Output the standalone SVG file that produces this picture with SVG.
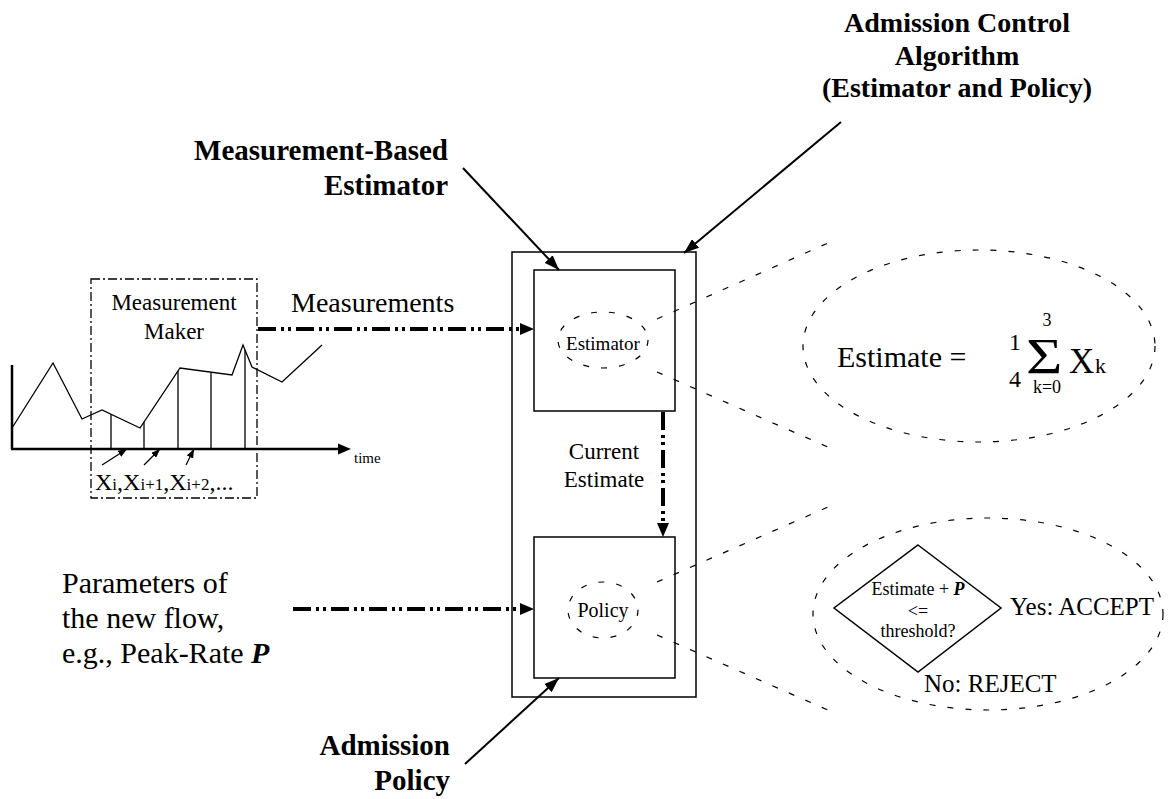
<svg xmlns="http://www.w3.org/2000/svg" width="1169" height="799" viewBox="0 0 1169 799">
<style>
text{font-family:"Liberation Serif","Times New Roman",serif;fill:#000}
.b{font-weight:bold}
.box{fill:none;stroke:#000;stroke-width:1.5}
.dsh{fill:none;stroke:#000;stroke-width:1.2;stroke-dasharray:6 12}
.thick{fill:none;stroke:#000;stroke-width:4;stroke-dasharray:18 5 3 4 3 5}
.thin{fill:none;stroke:#000;stroke-width:2}
.sm{fill:none;stroke:#000;stroke-width:1.3}
</style>
<defs>
<marker id="ah" markerUnits="userSpaceOnUse" markerWidth="14" markerHeight="12" refX="0" refY="6" orient="auto"><path d="M0,0 L14,6 L0,12 z" fill="#000"/></marker>
<marker id="at" markerUnits="userSpaceOnUse" markerWidth="15" markerHeight="11" refX="15" refY="5.5" orient="auto"><path d="M0,0 L15,5.5 L0,11 z" fill="#000"/></marker>
<marker id="as" markerUnits="userSpaceOnUse" markerWidth="9" markerHeight="7" refX="9" refY="3.5" orient="auto"><path d="M0,0 L9,3.5 L0,7 z" fill="#000"/></marker>
</defs>

<g id="chart">
<line x1="12" y1="365" x2="12" y2="449" stroke="#000" stroke-width="2.5"/>
<line x1="11" y1="449" x2="338" y2="449" stroke="#000" stroke-width="2.5"/>
<path d="M338,443.5 L351,449 L338,454.5 z" fill="#000"/>
<polyline class="sm" points="12,428 53,363 82,419 102,410 140,428 180,368 232,375 243,345 252,367 282,382 322,345"/>
<line class="sm" x1="111" y1="414" x2="111" y2="449"/>
<line class="sm" x1="144" y1="422" x2="144" y2="449"/>
<line class="sm" x1="178" y1="371" x2="178" y2="449"/>
<line class="sm" x1="211" y1="372" x2="211" y2="449"/>
<line class="sm" x1="245" y1="350" x2="245" y2="449"/>
<line class="sm" x1="102" y1="465" x2="127" y2="449" marker-end="url(#as)"/>
<line class="sm" x1="144" y1="465" x2="160" y2="449" marker-end="url(#as)"/>
<line class="sm" x1="186" y1="465" x2="194" y2="449" marker-end="url(#as)"/>
<text x="354" y="463" font-size="15">time</text>
<text x="95" y="490" font-size="24">X<tspan font-size="17">i</tspan>,X<tspan font-size="17">i+1</tspan>,X<tspan font-size="17">i+2</tspan>,...</text>
</g>

<g id="measurement-maker">
<rect x="91" y="279" width="166" height="219" fill="none" stroke="#000" stroke-width="1.3" stroke-dasharray="9 3 2 3"/>
<text x="174" y="310" font-size="23" text-anchor="middle">Measurement</text>
<text x="174" y="339" font-size="23" text-anchor="middle">Maker</text>
</g>

<g id="admission-control">
<rect class="box" x="512" y="252" width="184" height="445"/>
</g>

<g id="estimator">
<rect class="box" x="534" y="270" width="141" height="141"/>
<ellipse class="dsh" cx="603" cy="340" rx="45" ry="28"/>
<text x="603" y="350" font-size="19" text-anchor="middle">Estimator</text>
</g>

<g id="policy">
<rect class="box" x="534" y="537" width="141" height="141"/>
<ellipse class="dsh" cx="603" cy="610" rx="35" ry="28"/>
<text x="603" y="617" font-size="20" text-anchor="middle">Policy</text>
</g>

<g id="estimate-zoom">
<ellipse class="dsh" cx="979" cy="346" rx="176" ry="96"/>
<text x="837" y="367" font-size="30">Estimate =</text>
<text x="1015" y="350" font-size="24" text-anchor="middle">1</text>
<text x="1015" y="387" font-size="24" text-anchor="middle">4</text>
<text transform="translate(1026,373) scale(1.25,1)" font-size="50">Σ</text>
<text x="1047" y="326" font-size="18" text-anchor="middle">3</text>
<text x="1047" y="393" font-size="18" text-anchor="middle">k=0</text>
<text x="1069" y="373" font-size="35">X</text>
<text x="1095" y="373" font-size="22">k</text>
</g>

<g id="policy-zoom">
<ellipse class="dsh" cx="988" cy="614" rx="175" ry="96"/>
<polygon points="918,545 1001,608 918,672 834,608" fill="none" stroke="#000" stroke-width="1.5"/>
<text x="918" y="595" font-size="18" text-anchor="middle">Estimate + <tspan font-weight="bold" font-style="italic">P</tspan></text>
<text x="918" y="617" font-size="18" text-anchor="middle">&lt;=</text>
<text x="918" y="637" font-size="18" text-anchor="middle">threshold?</text>
<text x="1010" y="615" font-size="25">Yes: ACCEPT</text>
<text x="924" y="692" font-size="25">No: REJECT</text>
</g>

<g id="labels">
<text class="b" x="957" y="32" font-size="28" text-anchor="middle">Admission Control</text>
<text class="b" x="957" y="65" font-size="28" text-anchor="middle">Algorithm</text>
<text class="b" x="957" y="97" font-size="28" text-anchor="middle">(Estimator and Policy)</text>
<text class="b" x="448" y="160" font-size="29" text-anchor="end">Measurement-Based</text>
<text class="b" x="448" y="195" font-size="29" text-anchor="end">Estimator</text>
<text class="b" x="450" y="755" font-size="29" text-anchor="end">Admission</text>
<text class="b" x="450" y="790" font-size="29" text-anchor="end">Policy</text>
<text x="291" y="312" font-size="28">Measurements</text>
<text x="604" y="459" font-size="23" text-anchor="middle">Current</text>
<text x="604" y="487" font-size="23" text-anchor="middle">Estimate</text>
<text x="62" y="593" font-size="30">Parameters of</text>
<text x="62" y="628" font-size="30">the new flow,</text>
<text x="62" y="663" font-size="30">e.g., Peak-Rate <tspan font-weight="bold" font-style="italic">P</tspan></text>
</g>

<g id="connectors">
<line class="thick" x1="258" y1="329" x2="520" y2="329" marker-end="url(#ah)"/>
<line class="thick" x1="663" y1="412" x2="663" y2="523" marker-end="url(#ah)"/>
<line class="thick" x1="293" y1="609" x2="520" y2="609" marker-end="url(#ah)"/>
<line class="thin" x1="463" y1="168" x2="559" y2="270" marker-end="url(#at)"/>
<line class="thin" x1="841" y1="122" x2="684" y2="253" marker-end="url(#at)"/>
<line class="thin" x1="465" y1="764" x2="559" y2="678" marker-end="url(#at)"/>
<line class="dsh" x1="657" y1="319" x2="828" y2="243"/>
<line class="dsh" x1="657" y1="372" x2="830" y2="448"/>
<line class="dsh" x1="657" y1="582" x2="828" y2="507"/>
<line class="dsh" x1="657" y1="635" x2="830" y2="711"/>
</g>
</svg>
